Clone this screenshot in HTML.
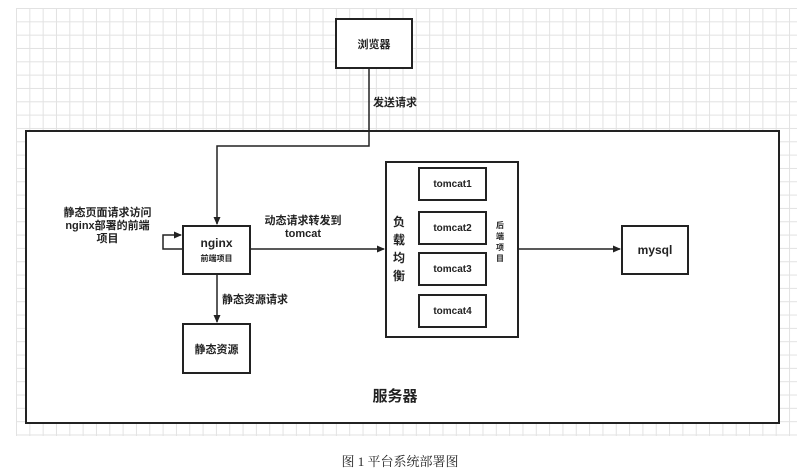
<!DOCTYPE html>
<html><head><meta charset="utf-8"><style>
html,body{margin:0;padding:0;background:#fff;}
body{width:800px;height:475px;position:relative;overflow:hidden;font-family:"Liberation Sans","Noto Sans CJK SC",sans-serif;font-weight:bold;color:#222;}
.grid{position:absolute;left:16px;top:8px;width:781px;height:428px;
background-image:linear-gradient(to right,#e2e2e2 1px,transparent 1px),linear-gradient(to bottom,#e2e2e2 1px,transparent 1px);
background-size:13.33px 13.33px;}
.b{position:absolute;border:2px solid #222;background:#fff;box-sizing:border-box;display:flex;align-items:center;justify-content:center;text-align:center;}
.t{position:absolute;font-size:11px;line-height:13px;text-align:center;}
</style></head><body>
<div class="grid"></div>
<div class="b" style="left:25px;top:130px;width:755px;height:294px;"></div>
<div class="b" style="left:335px;top:18px;width:78px;height:51px;font-size:11px;">浏览器</div>
<div class="b" style="left:182px;top:225px;width:69px;height:50px;flex-direction:column;"><div style="font-size:12px;">nginx</div><div style="font-size:8px;margin-top:3px;">前端项目</div></div>
<div class="b" style="left:182px;top:323px;width:69px;height:51px;font-size:11px;">静态资源</div>
<div class="b" style="left:385px;top:161px;width:134px;height:177px;"></div>
<div class="b" style="left:418px;top:167px;width:69px;height:34px;font-size:10px;">tomcat1</div>
<div class="b" style="left:418px;top:211px;width:69px;height:34px;font-size:10px;">tomcat2</div>
<div class="b" style="left:418px;top:252px;width:69px;height:34px;font-size:10px;">tomcat3</div>
<div class="b" style="left:418px;top:294px;width:69px;height:34px;font-size:10px;">tomcat4</div>
<div class="b" style="left:621px;top:225px;width:68px;height:50px;font-size:12px;">mysql</div>
<div class="t" style="left:392px;top:213px;width:14px;font-size:12px;line-height:18px;">负载均衡</div>
<div class="t" style="left:495px;top:220px;width:10px;font-size:8px;line-height:11px;">后端项目</div>
<div class="t" style="left:50px;top:207px;width:115px;">静态页面请求访问<br>nginx部署的前端<br>项目</div>
<div class="t" style="left:258px;top:215px;width:90px;">动态请求转发到<br>tomcat</div>
<div class="t" style="left:222px;top:294px;text-align:left;">静态资源请求</div>
<div class="t" style="left:373px;top:97px;text-align:left;">发送请求</div>
<div class="t" style="left:350px;top:390px;width:90px;font-size:15px;">服务器</div>
<div class="t" style="left:300px;top:455px;width:200px;font-family:'Liberation Serif','Noto Serif CJK SC',serif;font-weight:normal;font-size:13px;">图 1 平台系统部署图</div>
<svg width="800" height="475" style="position:absolute;left:0;top:0;">
<defs><marker id="a" markerWidth="8" markerHeight="8" refX="7" refY="4" orient="auto" markerUnits="userSpaceOnUse"><path d="M0,0.5 L8,4 L0,7.5 Z" fill="#222"/></marker></defs>
<g stroke="#222" stroke-width="1.5" fill="none">
<polyline points="369,69 369,146 217,146 217,224" marker-end="url(#a)"/>
<polyline points="182,249 163,249 163,235 181,235" marker-end="url(#a)"/>
<line x1="251" y1="249" x2="384" y2="249" marker-end="url(#a)"/>
<line x1="217" y1="275" x2="217" y2="322" marker-end="url(#a)"/>
<line x1="519" y1="249" x2="620" y2="249" marker-end="url(#a)"/>
</g></svg>
</body></html>
